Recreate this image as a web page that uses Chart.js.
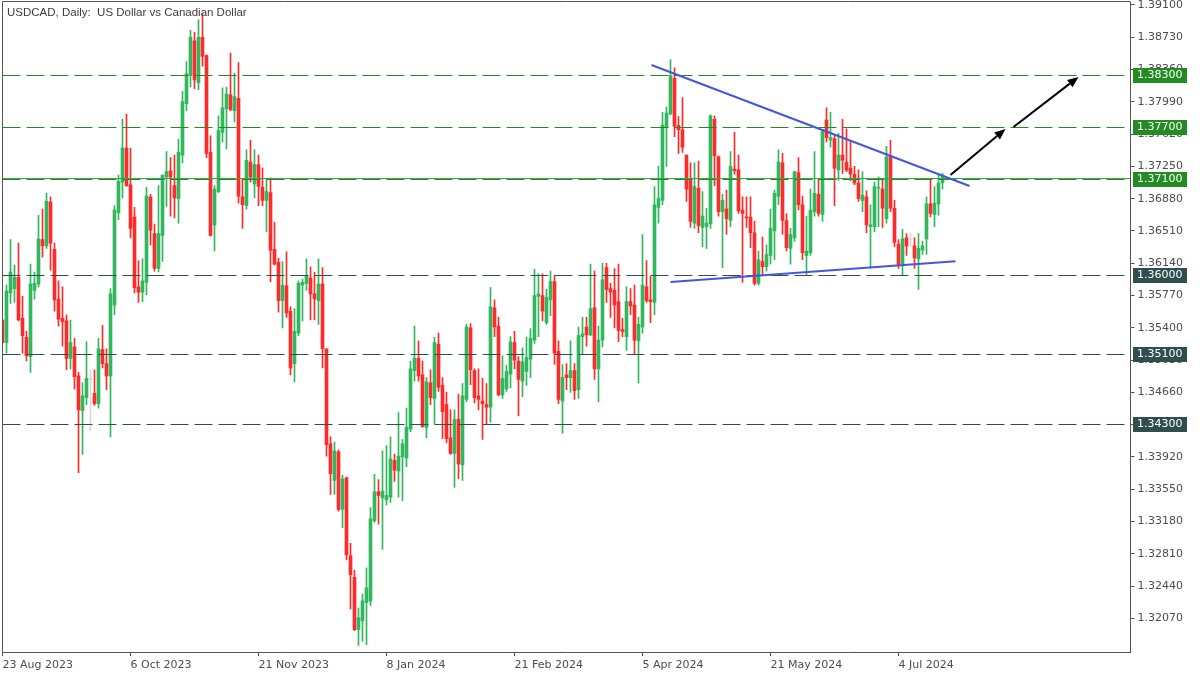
<!DOCTYPE html>
<html><head><meta charset="utf-8">
<script src="https://cdn.jsdelivr.net/npm/chart.js@4.4.0/dist/chart.umd.min.js"></script>
<style>html,body{margin:0;padding:0;background:#fff;}canvas{display:block;}</style>
</head><body>
<canvas id="c" width="1200" height="675"></canvas>
<script>
const chartTitle = 'USDCAD, Daily:  US Dollar vs Canadian Dollar';
const opens = [
1.3549,1.3523,1.3580,1.3585,1.3598,1.3551,1.3529,1.3507,1.3583,1.3590,
1.3641,1.3634,1.3684,1.3630,1.3573,1.3551,1.3548,1.3505,1.3518,1.3485,
1.3445,1.3460,1.3481,1.3465,1.3453,1.3515,1.3499,1.3485,1.3566,1.3672,
1.3707,1.3746,1.3704,1.3667,1.3587,1.3581,1.3592,1.3690,1.3648,1.3608,
1.3646,1.3713,1.3720,1.3703,1.3688,1.3738,1.3797,1.3829,1.3869,1.3821,
1.3873,1.3852,1.3741,1.3658,1.3696,1.3764,1.3791,1.3807,1.3789,1.3803,
1.3690,1.3680,1.3730,1.3705,1.3727,1.3701,1.3686,1.3695,1.3630,1.3615,
1.3571,1.3588,1.3559,1.3499,1.3534,1.3589,1.3591,1.3597,1.3579,1.3571,
1.3590,1.3516,1.3407,1.3365,1.3398,1.3332,1.3368,1.3279,1.3254,1.3194,
1.3204,1.3225,1.3227,1.3319,1.3352,1.3345,1.3343,1.3346,1.3388,1.3376,
1.3392,1.3391,1.3424,1.3491,1.3505,1.3486,1.3426,1.3477,1.3459,1.3521,
1.3474,1.3452,1.3414,1.3396,1.3435,1.3383,1.3458,1.3540,1.3491,1.3462,
1.3456,1.3452,1.3449,1.3563,1.3542,1.3463,1.3470,1.3487,1.3523,1.3502,
1.3479,1.3490,1.3504,1.3526,1.3576,1.3577,1.3546,1.3572,1.3593,1.3513,
1.3456,1.3486,1.3483,1.3491,1.3469,1.3530,1.3541,1.3532,1.3563,1.3493,
1.3526,1.3609,1.3585,1.3583,1.3570,1.3538,1.3530,1.3570,1.3566,1.3525,
1.3541,1.3587,1.3572,1.3569,1.3678,1.3686,1.3770,1.3785,1.3826,1.3772,
1.3767,1.3738,1.3711,1.3660,1.3700,1.3655,1.3656,1.3659,1.3779,1.3736,
1.3673,1.3676,1.3663,1.3722,1.3721,1.3675,1.3667,1.3667,1.3649,1.3591,
1.3616,1.3610,1.3623,1.3651,1.3691,1.3729,1.3663,1.3631,1.3643,1.3718,
1.3681,1.3623,1.3626,1.3673,1.3693,1.3670,1.3778,1.3755,1.3757,1.3721,
1.3738,1.3730,1.3723,1.3716,1.3706,1.3686,1.3690,1.3656,1.3656,1.3700,
1.3699,1.3665,1.3736,1.3677,1.3636,1.3613,1.3643,1.3641,1.3634,1.3619,
1.3629,1.3642,1.3682,1.3670,1.3682,1.3706];
const highs = [
1.3550,1.3589,1.3641,1.3612,1.3637,1.3576,1.3536,1.3613,1.3604,1.3669,
1.3676,1.3694,1.3690,1.3637,1.3594,1.3587,1.3555,1.3549,1.3528,1.3489,
1.3477,1.3524,1.3492,1.3492,1.3528,1.3543,1.3516,1.3585,1.3680,1.3715,
1.3779,1.3785,1.3746,1.3678,1.3617,1.3619,1.3701,1.3693,1.3659,1.3703,
1.3715,1.3742,1.3735,1.3738,1.3756,1.3811,1.3845,1.3881,1.3879,1.3893,
1.3900,1.3853,1.3760,1.3703,1.3783,1.3815,1.3816,1.3855,1.3832,1.3844,
1.3711,1.3744,1.3755,1.3744,1.3738,1.3723,1.3711,1.3712,1.3661,1.3620,
1.3616,1.3627,1.3564,1.3562,1.3594,1.3596,1.3619,1.3610,1.3604,1.3619,
1.3609,1.3516,1.3415,1.3409,1.3400,1.3371,1.3369,1.3293,1.3262,1.3219,
1.3235,1.3265,1.3334,1.3372,1.3366,1.3399,1.3405,1.3415,1.3395,1.3443,
1.3412,1.3448,1.3502,1.3542,1.3525,1.3502,1.3483,1.3492,1.3529,1.3534,
1.3483,1.3466,1.3446,1.3446,1.3464,1.3476,1.3544,1.3545,1.3493,1.3493,
1.3482,1.3476,1.3586,1.3572,1.3552,1.3508,1.3497,1.3530,1.3536,1.3507,
1.3517,1.3529,1.3539,1.3607,1.3602,1.3602,1.3584,1.3605,1.3600,1.3525,
1.3498,1.3499,1.3525,1.3499,1.3541,1.3552,1.3552,1.3613,1.3605,1.3542,
1.3614,1.3614,1.3591,1.3608,1.3613,1.3551,1.3587,1.3585,1.3589,1.3552,
1.3647,1.3617,1.3599,1.3702,1.3725,1.3787,1.3793,1.3847,1.3838,1.3782,
1.3804,1.3738,1.3729,1.3729,1.3731,1.3696,1.3677,1.3784,1.3783,1.3737,
1.3693,1.3698,1.3742,1.3764,1.3738,1.3690,1.3690,1.3690,1.3662,1.3628,
1.3644,1.3635,1.3676,1.3698,1.3744,1.3740,1.3671,1.3654,1.3719,1.3735,
1.3691,1.3668,1.3699,1.3742,1.3711,1.3767,1.3792,1.3787,1.3761,1.3763,
1.3779,1.3768,1.3755,1.3725,1.3721,1.3719,1.3697,1.3681,1.3707,1.3713,
1.3709,1.3748,1.3755,1.3686,1.3641,1.3653,1.3648,1.3649,1.3643,1.3648,
1.3639,1.3690,1.3709,1.3702,1.3717,1.3717];
const lows = [
1.3522,1.3511,1.3568,1.3569,1.3548,1.3511,1.3502,1.3489,1.3573,1.3587,
1.3621,1.3631,1.3606,1.3559,1.3542,1.3519,1.3492,1.3493,1.3470,1.3374,
1.3395,1.3452,1.3422,1.3451,1.3448,1.3494,1.3469,1.3415,1.3555,1.3664,
1.3689,1.3702,1.3643,1.3580,1.3569,1.3570,1.3578,1.3635,1.3605,1.3604,
1.3616,1.3679,1.3668,1.3666,1.3660,1.3729,1.3789,1.3816,1.3814,1.3813,
1.3840,1.3735,1.3645,1.3628,1.3695,1.3753,1.3745,1.3789,1.3776,1.3683,
1.3654,1.3676,1.3707,1.3689,1.3680,1.3680,1.3650,1.3593,1.3612,1.3558,
1.3540,1.3552,1.3486,1.3478,1.3531,1.3548,1.3583,1.3549,1.3549,1.3544,
1.3494,1.3393,1.3349,1.3349,1.3330,1.3311,1.3274,1.3218,1.3193,1.3176,
1.3181,1.3177,1.3222,1.3317,1.3315,1.3286,1.3337,1.3340,1.3364,1.3346,
1.3342,1.3381,1.3421,1.3479,1.3479,1.3426,1.3414,1.3452,1.3430,1.3467,
1.3413,1.3408,1.3395,1.3357,1.3367,1.3365,1.3455,1.3475,1.3454,1.3446,
1.3412,1.3430,1.3432,1.3530,1.3462,1.3459,1.3467,1.3471,1.3493,1.3439,
1.3461,1.3474,1.3483,1.3522,1.3530,1.3548,1.3544,1.3554,1.3498,1.3453,
1.3419,1.3469,1.3466,1.3458,1.3459,1.3510,1.3519,1.3531,1.3481,1.3455,
1.3518,1.3569,1.3552,1.3540,1.3524,1.3530,1.3514,1.3555,1.3510,1.3477,
1.3534,1.3569,1.3546,1.3555,1.3660,1.3681,1.3725,1.3784,1.3759,1.3740,
1.3741,1.3685,1.3655,1.3654,1.3649,1.3633,1.3631,1.3654,1.3703,1.3668,
1.3609,1.3647,1.3656,1.3716,1.3671,1.3592,1.3655,1.3632,1.3589,1.3589,
1.3600,1.3605,1.3613,1.3618,1.3681,1.3647,1.3628,1.3613,1.3639,1.3675,
1.3618,1.3601,1.3623,1.3668,1.3668,1.3662,1.3753,1.3747,1.3680,1.3709,
1.3717,1.3719,1.3709,1.3704,1.3685,1.3673,1.3649,1.3608,1.3650,1.3656,
1.3655,1.3660,1.3673,1.3633,1.3608,1.3600,1.3623,1.3633,1.3608,1.3584,
1.3624,1.3624,1.3667,1.3656,1.3669,1.3699];
const closes = [
1.3523,1.3582,1.3604,1.3598,1.3549,1.3531,1.3508,1.3590,1.3591,1.3642,
1.3634,1.3685,1.3637,1.3572,1.3550,1.3547,1.3505,1.3523,1.3484,1.3446,
1.3462,1.3482,1.3481,1.3453,1.3516,1.3499,1.3485,1.3579,1.3675,1.3708,
1.3746,1.3703,1.3654,1.3586,1.3581,1.3594,1.3691,1.3652,1.3608,1.3648,
1.3715,1.3719,1.3713,1.3689,1.3741,1.3799,1.3831,1.3873,1.3824,1.3873,
1.3851,1.3740,1.3646,1.3699,1.3766,1.3792,1.3808,1.3790,1.3805,1.3691,
1.3681,1.3732,1.3713,1.3727,1.3702,1.3686,1.3696,1.3629,1.3613,1.3571,
1.3589,1.3557,1.3494,1.3536,1.3591,1.3592,1.3600,1.3579,1.3573,1.3590,
1.3516,1.3406,1.3373,1.3399,1.3332,1.3367,1.3280,1.3257,1.3194,1.3208,
1.3227,1.3242,1.3321,1.3352,1.3348,1.3353,1.3348,1.3390,1.3377,1.3393,
1.3407,1.3426,1.3493,1.3505,1.3485,1.3427,1.3478,1.3460,1.3523,1.3472,
1.3444,1.3413,1.3396,1.3435,1.3384,1.3462,1.3541,1.3492,1.3460,1.3458,
1.3453,1.3449,1.3564,1.3541,1.3463,1.3482,1.3490,1.3524,1.3503,1.3481,
1.3501,1.3506,1.3528,1.3577,1.3579,1.3559,1.3575,1.3593,1.3511,1.3458,
1.3483,1.3483,1.3491,1.3468,1.3531,1.3533,1.3532,1.3562,1.3493,1.3526,
1.3595,1.3584,1.3581,1.3566,1.3537,1.3536,1.3570,1.3565,1.3526,1.3544,
1.3589,1.3571,1.3570,1.3681,1.3688,1.3772,1.3786,1.3829,1.3771,1.3767,
1.3747,1.3699,1.3662,1.3702,1.3657,1.3668,1.3660,1.3783,1.3737,1.3673,
1.3686,1.3665,1.3725,1.3720,1.3674,1.3671,1.3666,1.3649,1.3591,1.3618,
1.3610,1.3624,1.3654,1.3694,1.3730,1.3663,1.3632,1.3647,1.3719,1.3681,
1.3626,1.3628,1.3675,1.3694,1.3671,1.3765,1.3758,1.3758,1.3723,1.3738,
1.3732,1.3721,1.3716,1.3706,1.3688,1.3692,1.3658,1.3658,1.3702,1.3701,
1.3677,1.3736,1.3677,1.3638,1.3612,1.3642,1.3634,1.3641,1.3620,1.3631,
1.3634,1.3682,1.3671,1.3683,1.3706,1.3715];

const tickLabels = ['23 Aug 2023','6 Oct 2023','21 Nov 2023','8 Jan 2024','21 Feb 2024','5 Apr 2024','21 May 2024','4 Jul 2024'];
const yTickValues = [1.32070,1.32440,1.32810,1.33180,1.33550,1.33920,1.34290,1.34660,1.35030,1.35400,
                     1.35770,1.36140,1.36510,1.36880,1.37250,1.37620,1.37990,1.38360,1.38730,1.39100];
const levelsGreen = [1.38300, 1.37700, 1.37100];
const levelsDark = [1.36000, 1.35100, 1.34300];
const solidLevel = 1.37100;
// trend lines and arrows: [bar index, price]
const upperTrend = [[162.25, 1.38412], [241.75, 1.37025]];
const lowerTrend = [[167.0, 1.35925], [238.25, 1.36164]];
const arrowPaths = [
  [[237.0, 1.37151], [250.75, 1.37679]],
  [[252.75, 1.37702], [269.0, 1.38275]]
];
const firstDate = [2023, 7, 23];
const holidays = ['2023-12-25', '2024-01-01'];
const totalBars = 283;
const yMin = 1.31685, yMax = 1.39134;

// trading-day categories
const MON = ['Jan','Feb','Mar','Apr','May','Jun','Jul','Aug','Sep','Oct','Nov','Dec'];
const categories = [];
let dt = new Date(Date.UTC(firstDate[0], firstDate[1], firstDate[2]));
while (categories.length < totalBars) {
  const dow = dt.getUTCDay();
  const iso = dt.toISOString().slice(0, 10);
  if (dow !== 0 && dow !== 6 && !holidays.includes(iso)) {
    categories.push(dt.getUTCDate() + ' ' + MON[dt.getUTCMonth()] + ' ' + dt.getUTCFullYear());
  }
  dt = new Date(dt.getTime() + 86400000);
}

const UP = '#32b65e', DOWN = '#ff2b2b', FLAT = '#d9d9d9';
const candleColors = opens.map((o, i) => closes[i] > o ? UP : (closes[i] < o ? DOWN : FLAT));

Chart.defaults.font.family = '"DejaVu Sans", sans-serif';
Chart.defaults.font.size = 11;

const overlay = {
  id: 'overlay',
  afterDatasetsDraw(chart) {
    const {ctx, chartArea: a, scales: {x, y}} = chart;
    ctx.save();
    ctx.beginPath(); ctx.rect(a.left, a.top, a.right - a.left, a.bottom - a.top); ctx.clip();
    const hline = (v, color, dash, off) => {
      const py = Math.round(y.getPixelForValue(v)) + 0.5 + (off || 0);
      ctx.strokeStyle = color; ctx.lineWidth = 1; ctx.setLineDash(dash);
      ctx.beginPath(); ctx.moveTo(a.left, py); ctx.lineTo(a.right, py); ctx.stroke();
    };
    hline(solidLevel, '#3aa44a', [], -1);
    levelsGreen.forEach(v => hline(v, '#228b22', [18, 6]));
    levelsDark.forEach(v => hline(v, '#2f4f4f', [18, 6]));
    ctx.setLineDash([]);
    // trend lines
    ctx.strokeStyle = '#4656dc'; ctx.lineWidth = 2;
    [upperTrend, lowerTrend].forEach(t => {
      ctx.beginPath();
      ctx.moveTo(x.getPixelForValue(t[0][0]), y.getPixelForValue(t[0][1]));
      ctx.lineTo(x.getPixelForValue(t[1][0]), y.getPixelForValue(t[1][1]));
      ctx.stroke();
    });
    // arrows
    ctx.strokeStyle = '#000'; ctx.fillStyle = '#000'; ctx.lineWidth = 2;
    arrowPaths.forEach(p => {
      const x1 = x.getPixelForValue(p[0][0]), y1 = y.getPixelForValue(p[0][1]);
      const x2 = x.getPixelForValue(p[1][0]), y2 = y.getPixelForValue(p[1][1]);
      const ang = Math.atan2(y2 - y1, x2 - x1);
      const L = 11, W = 4.5;
      const bx = x2 - L * Math.cos(ang), by = y2 - L * Math.sin(ang);
      ctx.beginPath(); ctx.moveTo(x1, y1); ctx.lineTo(bx, by); ctx.stroke();
      ctx.beginPath();
      ctx.moveTo(x2, y2);
      ctx.lineTo(bx + W * Math.sin(ang), by - W * Math.cos(ang));
      ctx.lineTo(bx - W * Math.sin(ang), by + W * Math.cos(ang));
      ctx.closePath(); ctx.fill();
    });
    ctx.restore();
  },
  afterDraw(chart) {
    const {ctx, chartArea: a, scales: {y}} = chart;
    ctx.save();
    // frame
    ctx.strokeStyle = '#555'; ctx.lineWidth = 1;
    ctx.beginPath();
    ctx.moveTo(Math.floor(a.left) + 0.5, a.bottom);
    ctx.lineTo(Math.floor(a.left) + 0.5, 1.5);
    ctx.lineTo(Math.floor(a.right) + 0.5, 1.5);
    ctx.stroke();
    // level label boxes
    ctx.font = '11px "DejaVu Sans"';
    ctx.textBaseline = 'middle'; ctx.textAlign = 'left';
    const box = (v, color) => {
      const py = Math.round(y.getPixelForValue(v));
      ctx.fillStyle = color;
      ctx.fillRect(1133, py - 7, 54, 15);
      ctx.fillStyle = '#ffffff';
      ctx.fillText(v.toFixed(5), 1137, py + 0.5);
    };
    levelsGreen.forEach(v => box(v, '#228b22'));
    levelsDark.forEach(v => box(v, '#2f4f4f'));
    // title
    ctx.font = '11.5px "Liberation Sans"';
    ctx.fillStyle = '#3c3c3c'; ctx.textBaseline = 'alphabetic';
    ctx.fillText(chartTitle, 7, 16);
    ctx.restore();
  }
};

new Chart(document.getElementById('c'), {
  type: 'bar',
  data: {
    labels: categories,
    datasets: [
      { label: 'wick', data: lows.map((l, i) => [l, highs[i]]), backgroundColor: candleColors,
        barThickness: 1, grouped: false, order: 2, borderWidth: 0 },
      { label: 'body', data: opens.map((o, i) => [Math.min(o, closes[i]), Math.max(o, closes[i])]),
        backgroundColor: candleColors, barThickness: 3, minBarLength: 1, grouped: false, order: 1, borderWidth: 0 }
    ]
  },
  options: {
    responsive: false, animation: false, events: [],
    layout: { padding: { left: 2.5, top: 2, right: 0, bottom: 0 } },
    plugins: { legend: { display: false }, tooltip: { enabled: false }, title: { display: false } },
    scales: {
      x: {
        type: 'category', offset: false,
        grid: { offset: false, drawOnChartArea: false, drawTicks: true, tickLength: 4,
                color: c => (c.tick && c.tick.label) ? '#555' : 'rgba(0,0,0,0)' },
        border: { display: true, color: '#555' },
        ticks: { autoSkip: false, maxRotation: 0, minRotation: 0, align: 'start', padding: 3, color: '#4d4d4d',
                 callback: function(v) { const lab = this.getLabelForValue(v); return tickLabels.includes(lab) ? lab : ''; } },
        afterFit: s => { s.height = 23; s.paddingLeft = 0; s.paddingRight = 0; s.paddingTop = 0; s.paddingBottom = 0; }
      },
      y: {
        type: 'linear', position: 'right', min: yMin, max: yMax,
        grid: { drawOnChartArea: false, drawTicks: true, tickLength: 4, color: '#555' },
        border: { display: true, color: '#555' },
        ticks: { padding: 3, color: '#4d4d4d', callback: v => Number(v).toFixed(5) },
        afterBuildTicks: s => { s.ticks = yTickValues.map(v => ({ value: v })); },
        afterFit: s => { s.width = 69.5; s.paddingTop = 0; s.paddingBottom = 0; s.paddingLeft = 0; s.paddingRight = 0; }
      }
    }
  },
  plugins: [overlay]
});
</script>
</body></html>
